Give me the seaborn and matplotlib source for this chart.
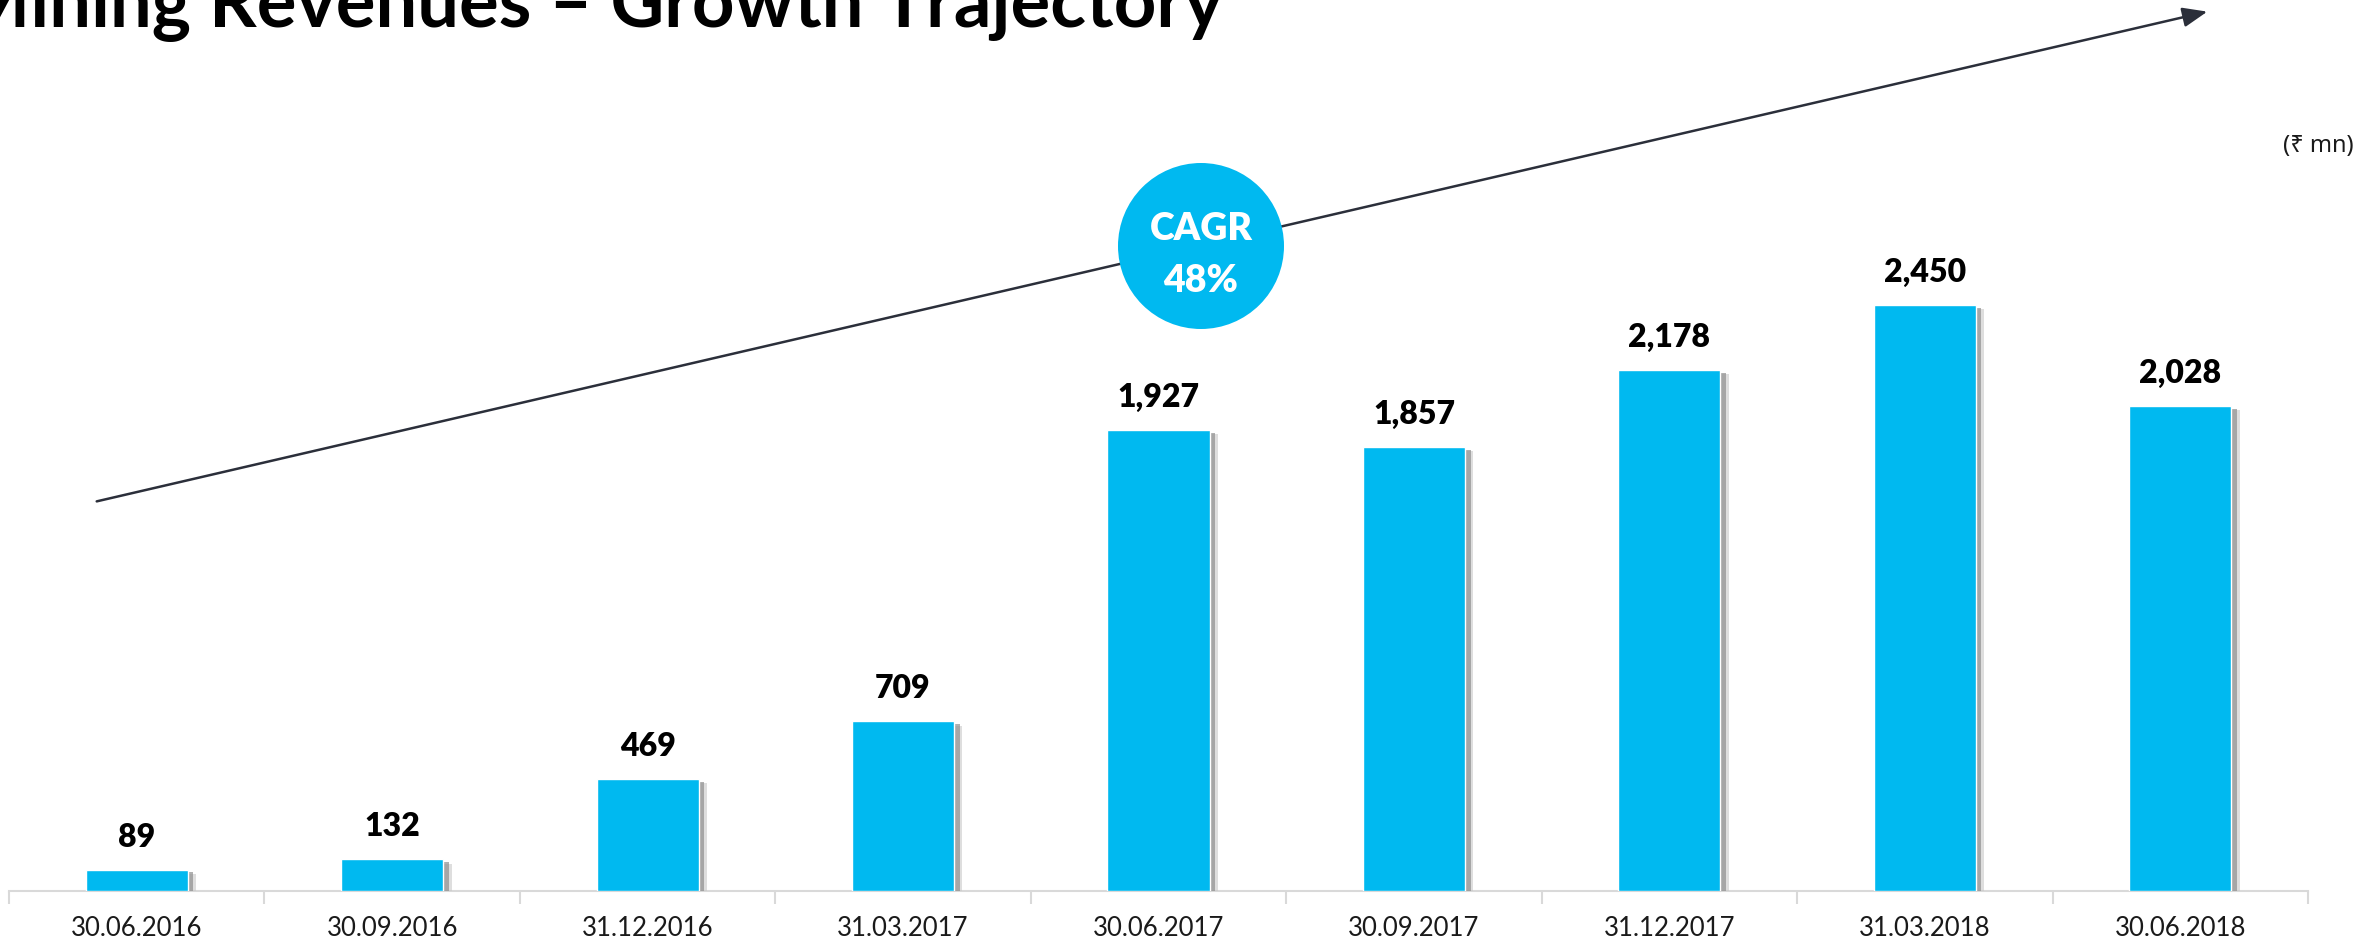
import matplotlib
matplotlib.use("Agg")
import matplotlib.pyplot as plt
import matplotlib.patheffects as pe
from matplotlib.patches import Ellipse
import seaborn as sns
import pandas as pd

# ---- data ----
periods = ["30.06.2016", "30.09.2016", "31.12.2016", "31.03.2017", "30.06.2017",
           "30.09.2017", "31.12.2017", "31.03.2018", "30.06.2018"]
revenues = [89, 132, 469, 709, 1927, 1857, 2178, 2450, 2028]
title_text = "Mining Revenues \u2013 Growth Trajectory"
unit_text = "(\u20b9 mn)"
cagr_text = "CAGR\n48%"

BAR = "#00B9F0"
W, H = 2379, 940

sns.set_theme(style="white")
plt.rcParams["font.family"] = ["Lato", "Noto Sans", "DejaVu Sans"]

fig = plt.figure(figsize=(W / 100, H / 100), dpi=100)
ax = fig.add_axes([9 / W, (H - 891) / H, (2308 - 9) / W, 891 / H])

df = pd.DataFrame({"period": periods, "revenue": revenues})
sns.barplot(data=df, x="period", y="revenue", color=BAR, saturation=1,
            width=0.4, ax=ax, zorder=3)

for p in ax.patches:
    p.set_path_effects([
        pe.SimplePatchShadow(offset=(6, -3), shadow_rgbFace="#c8c8c8", alpha=0.6),
        pe.SimplePatchShadow(offset=(4, -2), shadow_rgbFace="#8f8f8f", alpha=0.7),
        pe.Normal()])

ax.bar_label(ax.containers[0], labels=[f"{v:,}" for v in revenues], padding=13,
             fontsize=23, fontweight="heavy", color="black")

ax.set_xlim(-0.5, len(periods) - 0.5)
ax.set_ylim(0, 3725)
ax.set_xlabel("")
ax.set_ylabel("")
ax.set_yticks([])
for s in ["top", "right", "left"]:
    ax.spines[s].set_visible(False)
ax.spines["bottom"].set_color("#d9d9d9")
ax.spines["bottom"].set_linewidth(1.5)

ax.tick_params(axis="x", which="major", length=0, pad=18, labelsize=18.5, labelcolor="#1a1a1a")
ax.set_xticks([i + 0.5 for i in range(-1, len(periods))], minor=True)
ax.tick_params(axis="x", which="minor", length=9, width=1.5, color="#d9d9d9", bottom=True)

# trend arrow
fig.add_artist(matplotlib.patches.FancyArrowPatch(
    (94 / W, 1 - 502 / H), (2210 / W, 1 - 11 / H), transform=fig.transFigure,
    arrowstyle="-|>,head_length=10,head_width=4", mutation_scale=1.5,
    color="#2b2f3a", lw=1.8, zorder=5))

# CAGR bubble
r = 83
fig.add_artist(Ellipse((1201 / W, 1 - 246 / H), 2 * r / W, 2 * r / H,
                       transform=fig.transFigure, facecolor=BAR, edgecolor="none", zorder=6))
fig.text(1201 / W, 1 - 255 / H, cagr_text, ha="center", va="center", color="white",
         fontsize=27, fontweight="heavy", linespacing=1.65, zorder=7)

fig.text(2318 / W, 1 - 146 / H, unit_text, ha="center", va="center", fontsize=17,
         color="#1a1a1a", family=["Noto Sans", "DejaVu Sans"])

fig.text(1223 / W, 1 - 27 / H, title_text, ha="right", va="baseline", fontsize=53.5,
         fontweight="bold", color="black")

fig.savefig("out.png", dpi=100, facecolor="white")
